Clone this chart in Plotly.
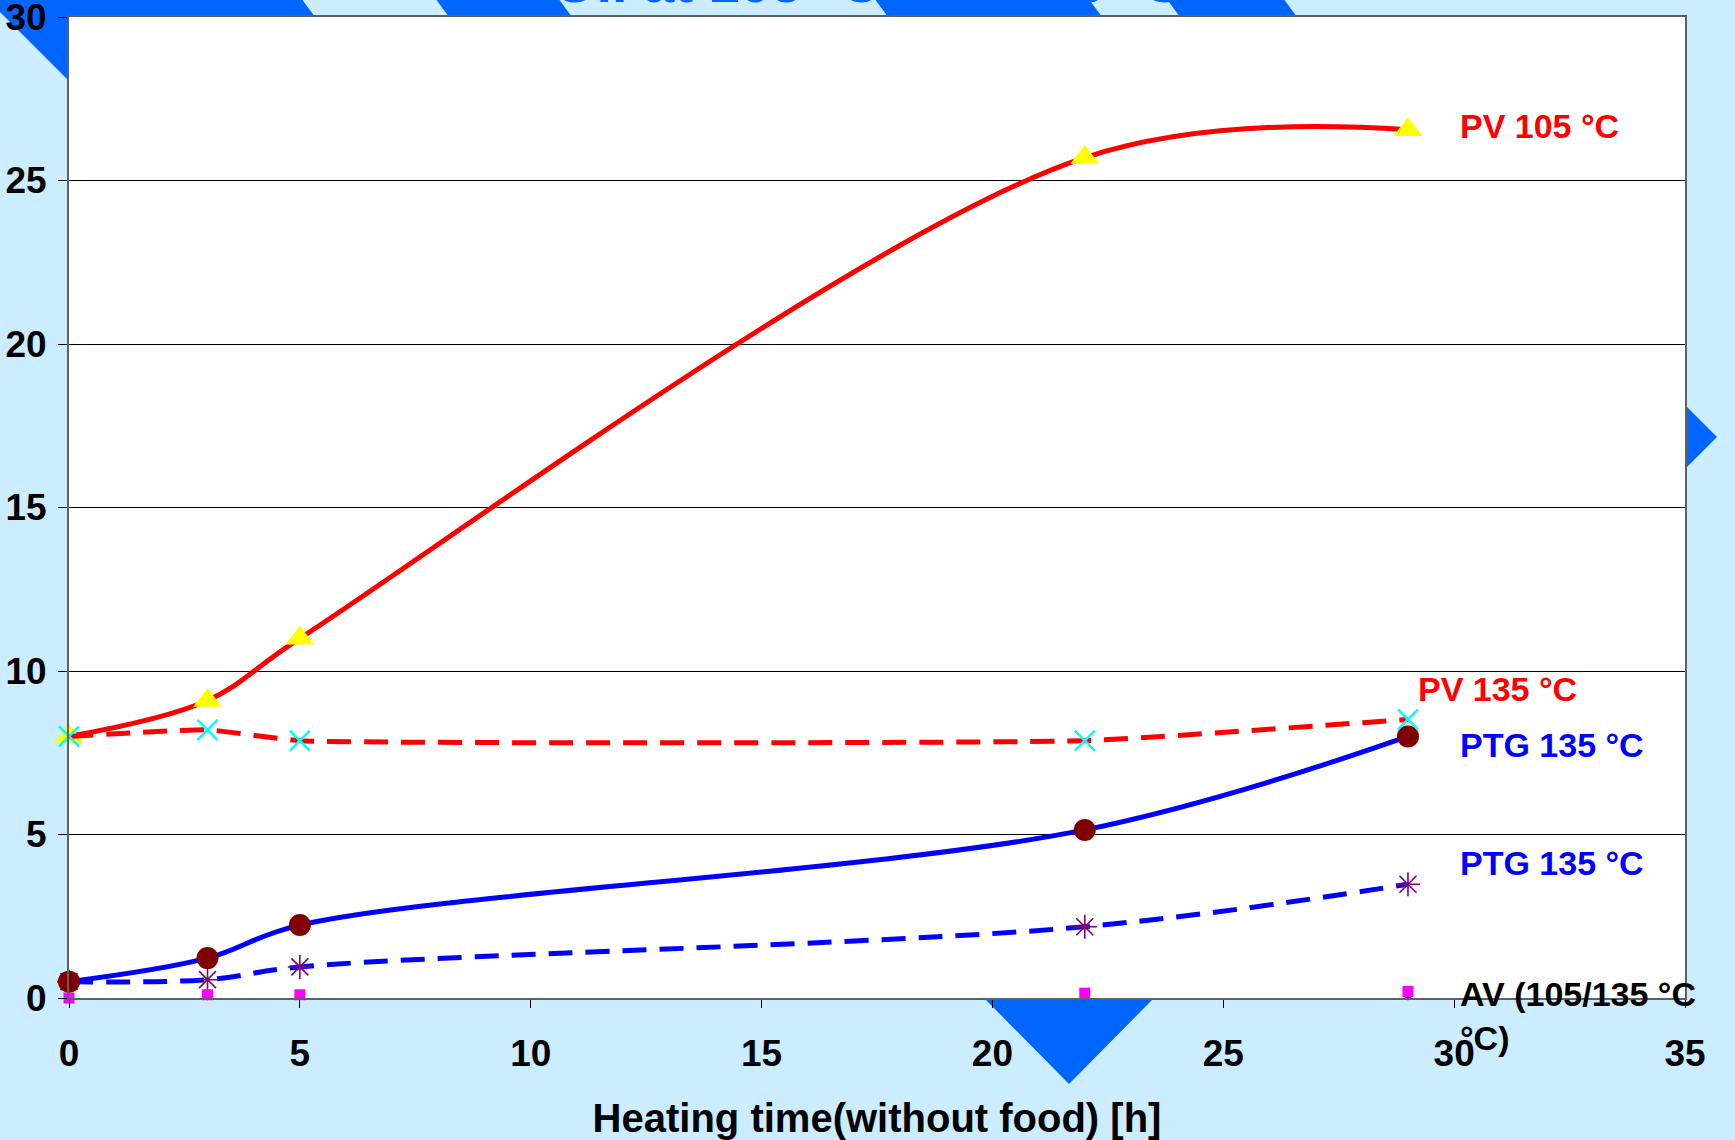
import plotly.graph_objects as go

# ---------------- data ----------------
hours = [0, 3, 5, 22, 29]
pv_105 = [8.0, 9.1, 11.0, 25.7, 26.55]
pv_135 = [8.0, 8.2, 7.87, 7.87, 8.52]
ptg_135_solid = [0.5, 1.22, 2.23, 5.14, 8.0]
ptg_135_dash = [0.5, 0.56, 0.95, 2.18, 3.48]
av_magenta = [0.0, 0.1, 0.1, 0.15, 0.2]
av_navy = [0.0, 0.04, 0.04, 0.04, 0.04]

x_ticks = [0, 5, 10, 15, 20, 25, 30, 35]
y_ticks = [0, 5, 10, 15, 20, 25, 30]

label_pv105 = "PV 105 °C"
label_pv135 = "PV 135 °C"
label_ptg_a = "PTG 135 °C"
label_ptg_b = "PTG 135 °C"
label_av = "AV (105/135 °C<br>°C)"
x_title = "Heating time(without food) [h]"
top_title = "Oil at 105 °C and 135 °C"

# ---------------- geometry helpers ----------------
W, H = 1735, 1140
L, R, T, B = 69, 1685, 17, 998
BG = "#CCECFF"
BLUE = "#0066FF"
FONT = "Liberation Sans, Arial, Helvetica, sans-serif"


def px(xp):
    return (xp - L) / (R - L)


def py(yp):
    return (B - yp) / (B - T)


def poly(points):
    s = "M " + " L ".join(f"{px(a):.5f},{py(b):.5f}" for a, b in points) + " Z"
    return dict(type="path", path=s, xref="paper", yref="paper",
                fillcolor=BLUE, line=dict(width=0), layer="below")


fig = go.Figure()

common = dict(mode="lines+markers", line_shape="spline", cliponaxis=False,
              showlegend=False, hoverinfo="x+y")

fig.add_trace(go.Scatter(x=hours, y=ptg_135_dash, name=label_ptg_b,
                         line=dict(color="#0000FF", width=5, dash="24px,13px", smoothing=1.0),
                         marker=dict(symbol="asterisk-open", size=20, color="#800080",
                                     line=dict(color="#800080", width=1.6)), **common))
fig.add_trace(go.Scatter(x=hours, y=ptg_135_solid, name=label_ptg_a,
                         line=dict(color="#0000FF", width=5, smoothing=1.0),
                         marker=dict(symbol="circle", size=22, color="#800000"), **common))
fig.add_trace(go.Scatter(x=hours, y=pv_105, name=label_pv105,
                         line=dict(color="#FF0000", width=5, smoothing=1.0),
                         marker=dict(symbol="triangle-up", size=25, color="#FFFF00"), **common))
fig.add_trace(go.Scatter(x=hours, y=pv_135, name=label_pv135,
                         line=dict(color="#FF0000", width=5, dash="24px,13px", smoothing=0.4),
                         marker=dict(symbol="x-thin-open", size=20, color="#00FFFF",
                                     line=dict(color="#00FFFF", width=2.5)), **common))
fig.add_trace(go.Scatter(x=hours, y=av_navy, name="AV",
                         mode="markers", cliponaxis=False, showlegend=False,
                         marker=dict(symbol="diamond", size=6, color="#000080")))
fig.add_trace(go.Scatter(x=hours, y=av_magenta, name="AV",
                         mode="markers", cliponaxis=False, showlegend=False,
                         marker=dict(symbol="square", size=11, color="#FF00FF")))

# decorative background shapes (outside the plot area)
shapes = [
    poly([(0, -2), (301, -2), (315, T), (L, T), (L, 81), (0, 12)]),
    poly([(435, -2), (558, -2), (572, T), (449, T)]),
    poly([(874, -2), (1088, -2), (1102, T), (888, T)]),
    poly([(1166, -2), (1283, -2), (1297, T), (1180, T)]),
    poly([(R + 1, 406), (1717, 437), (R + 1, 468)]),
    poly([(985, B + 1), (1153, B + 1), (1069, 1084)]),
]

lab_font = dict(family=FONT, size=34, weight="bold")
annotations = [
    dict(text=label_pv105, x=px(1458), y=py(126), font=dict(lab_font, color="#FF0000")),
    dict(text=label_pv135, x=px(1416), y=py(689), font=dict(lab_font, color="#FF0000")),
    dict(text=label_ptg_a, x=px(1458), y=py(745), font=dict(lab_font, color="#0000FF")),
    dict(text=label_ptg_b, x=px(1458), y=py(863), font=dict(lab_font, color="#0000FF")),
    dict(text=label_av, x=px(1458), y=py(1016), font=dict(lab_font, color="#000000"), align="left"),
]
for a in annotations:
    a.update(xref="paper", yref="paper", xanchor="left", yanchor="middle", showarrow=False)
annotations.append(dict(text=top_title, xref="paper", yref="paper", x=px(868), y=py(16),
                        xanchor="center", yanchor="bottom", showarrow=False,
                        font=dict(family=FONT, size=56, weight="bold", color=BLUE)))

fig.update_layout(
    width=W, height=H,
    margin=dict(l=L, r=W - R, t=T, b=H - B, pad=0),
    paper_bgcolor=BG, plot_bgcolor="#FFFFFF",
    shapes=shapes, annotations=annotations,
    font=dict(family=FONT, color="#000000"),
)
fig.update_xaxes(
    range=[0, 35], tickvals=x_ticks, ticktext=[str(v) for v in x_ticks],
    showgrid=False, zeroline=False,
    showline=True, linecolor="#606060", linewidth=2, mirror=True,
    ticks="outside", ticklen=8, tickcolor="#000000", tickwidth=1,
    tickfont=dict(family=FONT, size=37, weight="bold", color="#000000"),
    ticklabelstandoff=14, ticklabeloverflow="allow", automargin=False,
    title=dict(text=x_title, standoff=32,
               font=dict(family=FONT, size=40, weight="bold", color="#000000")),
)
fig.update_yaxes(
    range=[0, 30], tickvals=y_ticks, ticktext=[str(v) for v in y_ticks],
    showgrid=True, gridcolor="#000000", gridwidth=1, zeroline=False,
    showline=True, linecolor="#606060", linewidth=2, mirror=True,
    ticks="outside", ticklen=9, tickcolor="#000000", tickwidth=1,
    tickfont=dict(family=FONT, size=37, weight="bold", color="#000000"),
    ticklabelstandoff=4, ticklabeloverflow="allow", automargin=False,
)

fig.write_html("out.html")
